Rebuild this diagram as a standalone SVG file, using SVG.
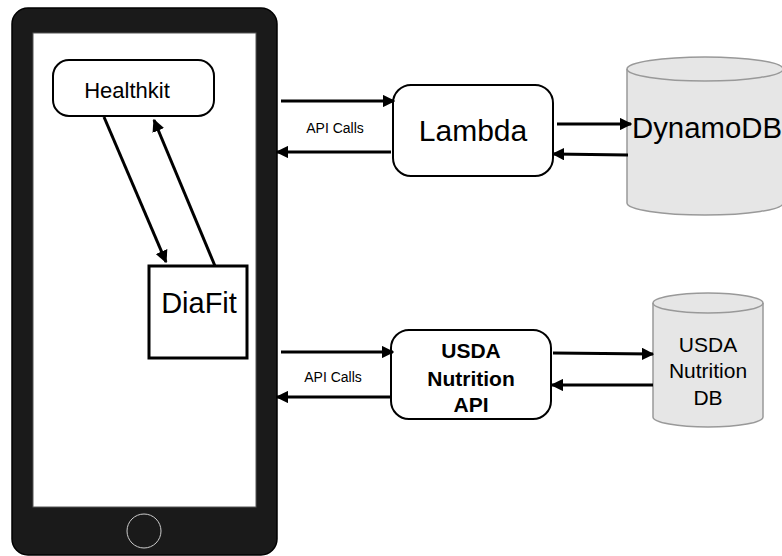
<svg xmlns="http://www.w3.org/2000/svg" width="782" height="556" viewBox="0 0 782 556">
<style>
.t{font-family:"Liberation Sans",Arial,sans-serif;fill:#000;text-anchor:middle}
.box{fill:#fff;stroke:#000;stroke-width:2}
.db{fill:#e6e6e6;stroke:#999;stroke-width:1.5}
.c{stroke:#000;stroke-width:3;fill:none;marker-end:url(#ah)}
</style>
<defs>
<marker id="ah" viewBox="0 0 10 10" refX="9" refY="5" markerWidth="4.2" markerHeight="4.2" markerUnits="strokeWidth" orient="auto">
<path d="M0,0 L10,5 L0,10 z" fill="#000"/>
</marker>
</defs>
<g id="phone">
<rect x="12" y="8" width="265" height="547" rx="16" fill="#1a1a1a" stroke="#000" stroke-width="1.5"/>
<rect x="33" y="33" width="223" height="474" fill="#fff" stroke="#555" stroke-width="1"/>
<circle cx="144" cy="531" r="17" fill="#1a1a1a" stroke="#ccc" stroke-width="1"/>
</g>
<g id="healthkit">
<rect class="box" x="53" y="60" width="161" height="56" rx="16"/>
<text class="t" x="127" y="98" font-size="22">Healthkit</text>
</g>
<g id="diafit">
<rect x="149" y="266" width="98" height="92" fill="#fff" stroke="#000" stroke-width="3"/>
<text class="t" x="199" y="313" font-size="29">DiaFit</text>
</g>
<g id="lambda">
<rect class="box" x="393" y="85" width="160" height="91" rx="18"/>
<text class="t" x="473" y="141" font-size="30">Lambda</text>
</g>
<g id="dynamodb">
<path class="db" d="M627,69 A78,12 0 0 1 783,69 L783,203 A78,12 0 0 1 627,203 Z"/>
<path d="M627,69 A78,12 0 0 0 783,69" fill="none" stroke="#999" stroke-width="1.5"/>
<text class="t" x="707" y="138" font-size="29" textLength="150" lengthAdjust="spacingAndGlyphs">DynamoDB</text>
</g>
<g id="usda-api">
<rect class="box" x="391" y="330" width="160" height="89" rx="18"/>
<text class="t" x="471" y="358" font-size="21" font-weight="bold">USDA</text>
<text class="t" x="471" y="386" font-size="21" font-weight="bold">Nutrition</text>
<text class="t" x="471" y="412" font-size="21" font-weight="bold">API</text>
</g>
<g id="usda-db">
<path class="db" d="M653,303 A55,10 0 0 1 763,303 L763,417 A55,10 0 0 1 653,417 Z"/>
<path d="M653,303 A55,10 0 0 0 763,303" fill="none" stroke="#999" stroke-width="1.5"/>
<text class="t" x="708" y="352" font-size="21">USDA</text>
<text class="t" x="708" y="378" font-size="21">Nutrition</text>
<text class="t" x="708" y="405" font-size="21">DB</text>
</g>
<g id="connectors">
<line class="c" x1="104" y1="117" x2="166" y2="262"/>
<line class="c" x1="215" y1="266" x2="154" y2="120"/>
<line class="c" x1="281" y1="101" x2="394" y2="101"/>
<line class="c" x1="391" y1="152" x2="277" y2="152"/>
<line class="c" x1="557" y1="124" x2="631" y2="124"/>
<line class="c" x1="628" y1="155" x2="553" y2="154"/>
<line class="c" x1="281" y1="352" x2="393" y2="352"/>
<line class="c" x1="390" y1="397" x2="277" y2="397"/>
<line class="c" x1="553" y1="353" x2="653" y2="354"/>
<line class="c" x1="653" y1="385" x2="552" y2="385"/>
<text class="t" x="335" y="133" font-size="14">API Calls</text>
<text class="t" x="333" y="382" font-size="14">API Calls</text>
</g>
</svg>
